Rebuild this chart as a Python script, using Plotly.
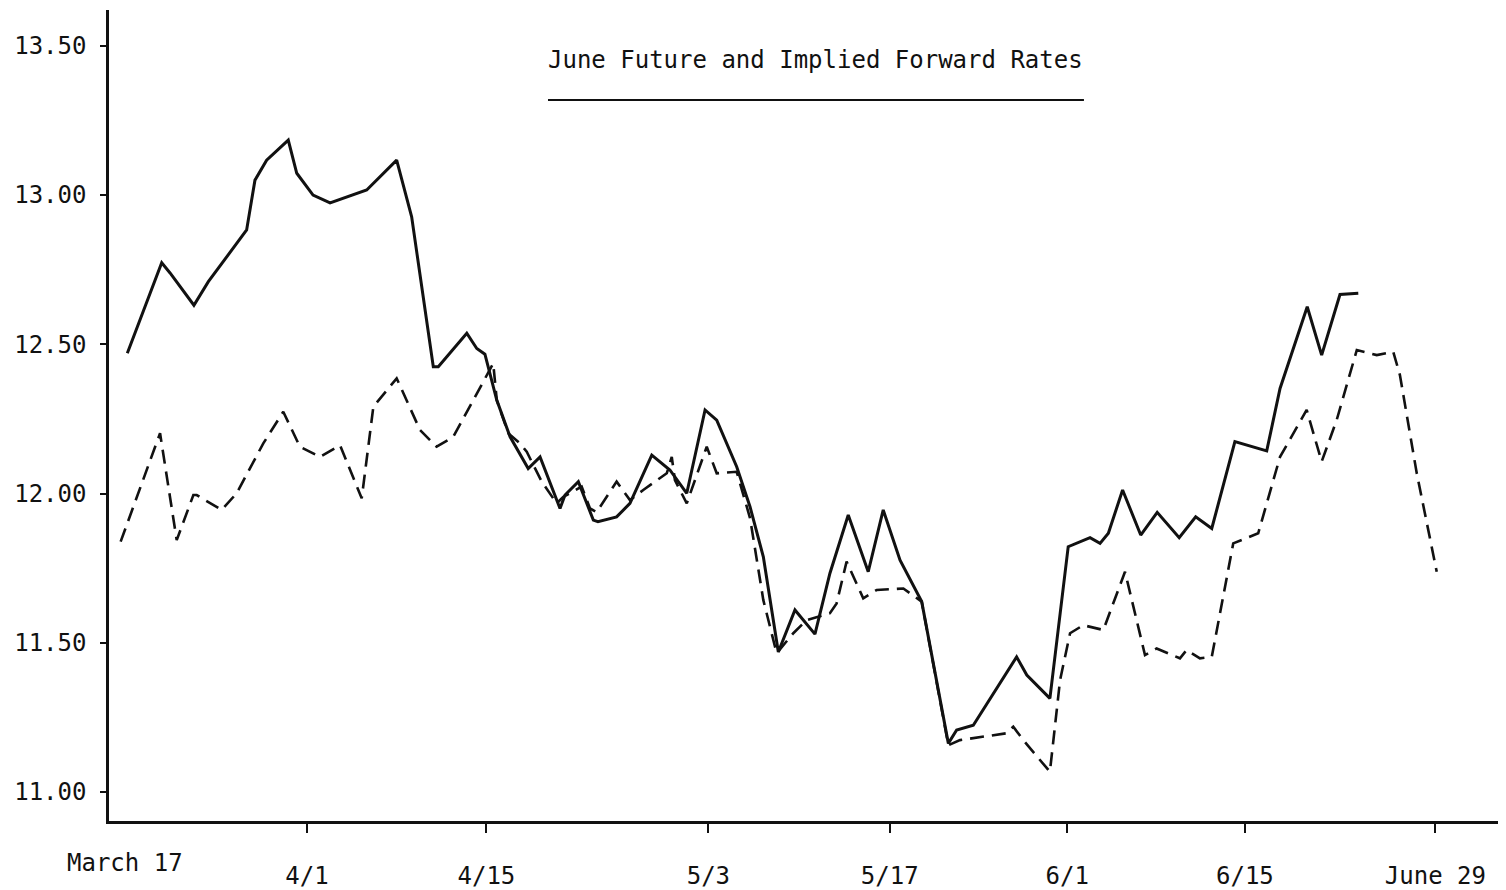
import plotly.graph_objects as go

# ---- data (x = trading-day index from March 17, y = rate in %) ----
future_x = [0.99, 2.85, 3.30, 4.59, 5.37, 7.44, 7.89, 8.52, 9.69, 10.15, 11.03, 11.95, 13.93,
            15.55, 16.36, 17.53, 17.80, 19.34, 19.88, 20.32, 20.96, 21.68, 22.66, 23.30, 24.38,
            24.65, 25.37, 26.18, 26.43, 27.44, 28.16, 29.34, 30.32, 31.23, 32.22, 32.85, 33.93,
            34.65, 35.37, 36.18, 37.08, 38.16, 38.97, 39.96, 41.04, 41.85, 42.76, 43.93, 45.37,
            45.82, 46.72, 47.80, 49.06, 49.61, 50.86, 51.85, 53.03, 53.57, 54.02, 54.79, 55.77,
            56.66, 57.85, 58.74, 59.61, 60.86, 62.58, 63.30, 64.02, 64.77, 65.55, 66.54, 67.53]
future_y = [12.470, 12.773, 12.739, 12.631, 12.710, 12.883, 13.050, 13.117, 13.184, 13.073,
            13.000, 12.974, 13.017, 13.117, 12.927, 12.425, 12.425, 12.537, 12.486, 12.467,
            12.313, 12.190, 12.084, 12.123, 11.950, 11.995, 12.040, 11.911, 11.906, 11.922,
            11.967, 12.129, 12.079, 12.001, 12.280, 12.246, 12.090, 11.956, 11.788, 11.469,
            11.610, 11.529, 11.733, 11.928, 11.738, 11.945, 11.777, 11.638, 11.163, 11.208,
            11.224, 11.331, 11.453, 11.392, 11.314, 11.822, 11.852, 11.833, 11.867, 12.012,
            11.861, 11.937, 11.852, 11.922, 11.883, 12.174, 12.143, 12.352, 12.486, 12.626,
            12.464, 12.667, 12.671]

forward_x = [0.63, 2.76, 3.66, 4.56, 4.74, 6.09, 6.90, 8.34, 9.42, 10.32, 11.41, 12.49, 13.66,
             14.29, 15.55, 16.81, 17.71, 18.61, 20.77, 20.96, 21.58, 22.22, 22.58, 23.39, 24.20,
             24.56, 25.55, 26.00, 26.36, 27.44, 28.16, 28.88, 30.15, 30.42, 30.59, 31.23, 32.31,
             32.85, 33.93, 34.65, 35.37, 36.09, 36.99, 37.71, 38.97, 39.33, 39.87, 40.77, 41.50,
             42.94, 43.93, 45.37, 46.00, 48.52, 48.88, 49.42, 50.86, 51.41, 51.95, 52.66, 53.75,
             54.92, 56.00, 56.63, 57.89, 58.25, 58.97, 59.61, 60.77, 62.12, 63.30, 64.74, 65.55,
             66.36, 67.45, 68.53, 69.42, 69.78, 70.69, 71.77]
forward_y = [11.839, 12.202, 11.844, 11.995, 11.995, 11.945, 12.001, 12.168, 12.274, 12.157,
             12.123, 12.162, 11.984, 12.291, 12.386, 12.213, 12.157, 12.190, 12.436, 12.313,
             12.202, 12.168, 12.140, 12.040, 11.967, 11.989, 12.023, 11.950, 11.938, 12.040,
             11.978, 12.012, 12.068, 12.123, 12.045, 11.967, 12.157, 12.068, 12.073, 11.918,
             11.643, 11.465, 11.532, 11.576, 11.599, 11.632, 11.772, 11.649, 11.677, 11.682,
             11.638, 11.157, 11.174, 11.197, 11.219, 11.174, 11.068, 11.375, 11.532, 11.559,
             11.543, 11.738, 11.459, 11.481, 11.448, 11.476, 11.448, 11.453, 11.833, 11.867,
             12.123, 12.280, 12.107, 12.246, 12.481, 12.464, 12.475, 12.397, 12.068, 11.738]

x_tick_pos = [10.7, 20.4, 32.4, 42.2, 51.8, 61.4, 71.7]
x_tick_text = ["4/1", "4/15", "5/3", "5/17", "6/1", "6/15", "June 29"]
start_label = "March 17"
start_label_pos = 0.86
y_tick_vals = [11.0, 11.5, 12.0, 12.5, 13.0, 13.5]
y_tick_text = ["11.00", "11.50", "12.00", "12.50", "13.00", "13.50"]
title_text = "June Future and Implied Forward Rates"

FONT = "DejaVu Sans Mono"
INK = "#111111"
FS = 24

fig = go.Figure()
fig.add_trace(go.Scatter(x=future_x, y=future_y, mode="lines",
                         line=dict(color=INK, width=3), showlegend=False))
fig.add_trace(go.Scatter(x=forward_x, y=forward_y, mode="lines",
                         line=dict(color=INK, width=2.6, dash="14px,8px"), showlegend=False))

# the page body adds an 8px offset, so the figure is sized to fit inside the window
fig.update_layout(
    width=1498, height=882,
    margin=dict(l=101, r=6, t=2, b=69, autoexpand=False),
    paper_bgcolor="white", plot_bgcolor="white",
    font=dict(family=FONT, size=FS, color=INK),
)
fig.update_xaxes(range=[0, 75.19], showgrid=False, zeroline=False, automargin=False,
                 showline=True, linecolor=INK, linewidth=2.5,
                 ticks="outside", ticklen=9, tickwidth=2, tickcolor=INK,
                 tickvals=x_tick_pos, ticktext=x_tick_text,
                 ticklabelstandoff=22,
                 tickfont=dict(family=FONT, size=FS, color=INK))
fig.update_yaxes(range=[10.903, 13.62], showgrid=False, zeroline=False, automargin=False,
                 showline=True, linecolor=INK, linewidth=2.5,
                 ticks="outside", ticklen=6, tickwidth=2, tickcolor=INK,
                 tickvals=y_tick_vals, ticktext=y_tick_text,
                 ticklabelstandoff=9,
                 tickfont=dict(family=FONT, size=FS, color=INK))

fig.add_annotation(x=start_label_pos, y=0, xref="x", yref="paper",
                   text=start_label, showarrow=False, xanchor="center", yanchor="top",
                   yshift=-26, font=dict(family=FONT, size=FS, color=INK))
fig.add_annotation(x=0.3142, y=0.9383, xref="paper", yref="paper",
                   text=title_text, showarrow=False, xanchor="left", yanchor="middle",
                   font=dict(family=FONT, size=FS, color=INK))
fig.add_shape(type="line", xref="paper", yref="paper", x0=0.3156, x1=0.7009,
              y0=0.889, y1=0.889, line=dict(color=INK, width=2))

fig.write_html("out.html")
